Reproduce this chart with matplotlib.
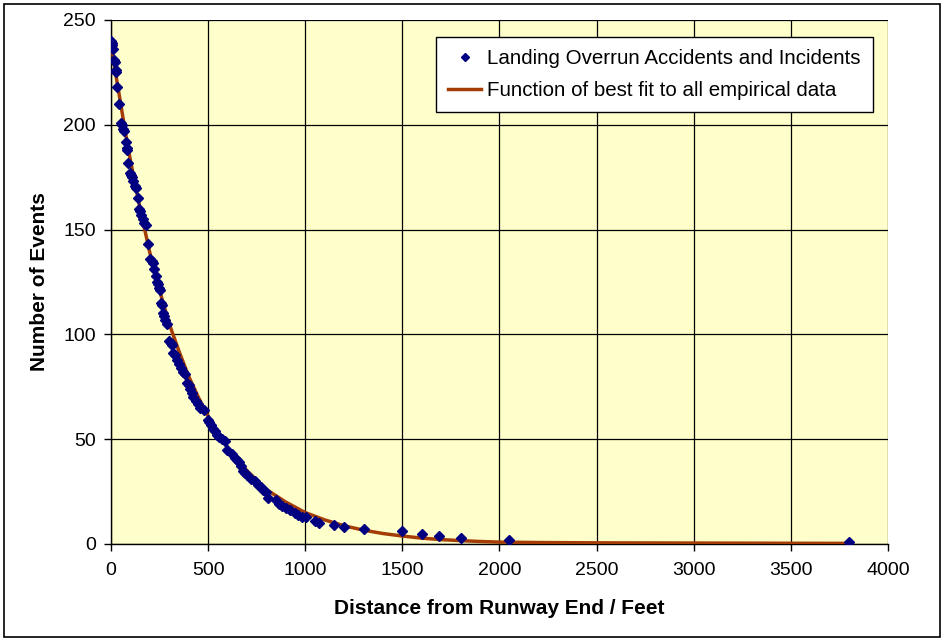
import matplotlib
matplotlib.use("Agg")
import matplotlib.pyplot as plt
from matplotlib.patches import Rectangle

plt.rcParams['font.family'] = ['Liberation Sans', 'DejaVu Sans']

# Empirical data: distance (ft) and number of events exceeding that distance
dist_ft = [0, 3, 6, 10, 15, 20, 25, 28, 32, 40, 50, 55, 60, 68, 75, 80, 85, 88,
           100, 105, 110, 115, 122, 130, 140, 145, 150, 155, 165, 170, 180, 190,
           200, 210, 218, 224, 230, 235, 240, 245, 250, 258, 265, 270, 275, 280,
           290, 300, 310, 315, 320, 330, 340, 350, 360, 370, 380, 390, 400, 405,
           415, 420, 440, 450, 460, 480, 500, 505, 515, 525, 535, 545, 555, 570,
           585, 595, 625, 640, 650, 660, 670, 680, 690, 700, 720, 740, 755, 770,
           785, 800, 810, 850, 865, 880, 900, 920, 945, 965, 985, 1005, 1050, 1070,
           1150, 1200, 1300, 1500, 1600, 1690, 1800, 2050, 3800]
events = [240, 239, 238, 236, 231, 230, 226, 225, 218, 210, 201, 200, 198, 197,
          192, 189, 188, 182, 177, 176, 175, 173, 171, 170, 165, 160, 159, 157,
          155, 153, 152, 143, 136, 135, 134, 131, 128, 125, 124, 122, 121, 115,
          114, 110, 109, 107, 105, 97, 96, 95, 91, 90, 88, 86, 84, 82, 81, 77,
          76, 74, 72, 70, 68, 67, 65, 64, 59, 58, 57, 55, 54, 52, 51, 50, 49,
          45, 43, 41, 40, 39, 37, 35, 34, 33, 31, 30, 28, 27, 26, 25, 22, 21,
          19, 18, 17, 16, 15, 14, 13, 13, 11, 10, 9, 8, 7, 6, 5, 4, 3, 2, 1]

# Best-fit curve, values
fit_x = [0, 25, 50, 75, 100, 150, 200, 250, 300, 350, 400, 450, 500, 550, 600,
         700, 800, 900, 1000, 1100, 1200, 1300, 1400, 1500, 1600, 1700, 1800,
         1900, 2000, 2200, 2500, 3000, 3500, 3800]
fit_y = [240, 224, 210, 196, 183, 160, 139, 121, 105, 92, 80, 70, 61, 53, 46,
         35, 26, 20, 15, 11.5, 8.7, 6.6, 5.0, 3.8, 2.8, 2.1, 1.6, 1.2, 0.9,
         0.7, 0.55, 0.45, 0.35, 0.3]

series_labels = ["Landing Overrun Accidents and Incidents",
                 "Function of best fit to all empirical data"]
x_ticks = [0, 500, 1000, 1500, 2000, 2500, 3000, 3500, 4000]
y_ticks = [0, 50, 100, 150, 200, 250]

fig = plt.figure(figsize=(9.42, 6.4), dpi=100)
fig.patch.set_facecolor('white')
fig.patches.append(Rectangle((0.004, 0.004), 0.994, 0.99, transform=fig.transFigure,
                             fill=False, edgecolor='black', linewidth=1.2))

ax = fig.add_axes([0.1178, 0.15, 0.8249, 0.8188])
ax.set_facecolor('#FFFFCC')

ax.plot(fit_x, fit_y, color='#A33D05', linewidth=2.5, zorder=3, label=series_labels[1])
ax.plot(dist_ft, events, linestyle='none', marker='D', markersize=5.5,
        color='#000080', zorder=4, label=series_labels[0])

ax.set_xlim(0, 4000)
ax.set_ylim(0, 250)
ax.set_xticks(x_ticks)
ax.set_yticks(y_ticks)
ax.grid(True, color='black', linewidth=0.9, zorder=1)
ax.set_axisbelow(True)
for s in ['top', 'right']:
    ax.spines[s].set_visible(False)
for s in ['left', 'bottom']:
    ax.spines[s].set_color('black')
    ax.spines[s].set_linewidth(1.0)
ax.tick_params(axis='both', direction='out', length=5, width=1, labelsize=14,
               colors='black')
ax.tick_params(axis='x', pad=8)
ax.tick_params(axis='y', pad=6)

ax.set_xlabel("Distance from Runway End / Feet", fontsize=15, fontweight='bold', labelpad=14)
ax.set_ylabel("Number of Events", fontsize=15, fontweight='bold', labelpad=10)

handles, labels = ax.get_legend_handles_labels()
leg = ax.legend(handles[::-1], labels[::-1], loc='upper right',
                bbox_to_anchor=(0.9807, 0.9676), borderaxespad=0,
                fontsize=14.8, frameon=True,
                fancybox=False, edgecolor='black', framealpha=1,
                handlelength=1.6, borderpad=0.6, labelspacing=0.62,
                handletextpad=0.3, markerscale=0.8)
leg.get_frame().set_linewidth(1.0)

fig.savefig("out.png", dpi=100)
